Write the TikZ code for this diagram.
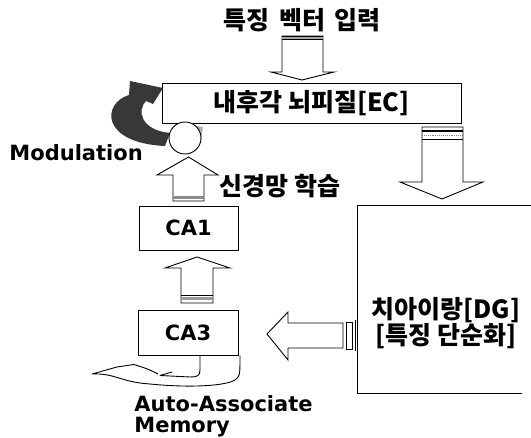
\documentclass[tikz,border=0pt]{standalone}
\usepackage{fontspec}
\newfontfamily\krfont{Noto Sans CJK KR}
\newfontfamily\latfont{DejaVu Sans}
\usetikzlibrary{calc}
\begin{document}
\begin{tikzpicture}[x=1pt,y=-1pt,line width=0.9pt,
  kr/.style={font=\krfont\bfseries\fontsize{25}{23}\selectfont, inner sep=0pt},
  lat/.style={font=\latfont\bfseries\fontsize{21}{21}\selectfont, inner sep=0pt},
  box/.style={draw, fill=white, inner sep=0pt},
  blk/.style={draw, fill=white, line join=miter},
  band/.style={fill=black!78},
  wedge/.style={fill=black!30},
  loopline/.style={line width=0.9pt, line join=round}]
\useasboundingbox (0,0) rectangle (531,438);

% title
\node[kr] (title) at (302,20.5) {특징\hspace{4pt} 벡터\hspace{4pt} 입력};

% boxes
\node[box, minimum width=299pt, minimum height=40pt] (ec) at (311.5,103) {};
\node[kr] (ectext) at (ec.center) {내후각 뇌피질[EC]};
\node[box, minimum width=99pt, minimum height=44pt] (ca1) at (188.5,228) {};
\node[lat] (ca1text) at (ca1.center) {CA1};
\node[box, minimum width=100pt, minimum height=45pt] (ca3) at (188,332.5) {};
\node[lat] (ca3text) at (ca3.center) {CA3};
\node[inner sep=0pt, minimum width=173pt, minimum height=187pt] (dg) at (444.5,299.5) {};
\draw (dg.north east) -- (dg.north west) -- (dg.south west) -- ++(164,0);
\node[kr, align=center] (dgtext) at (446,323) {치아이랑[DG]\\{}[특징 단순화]};

% input arrow: title -> EC
\draw[blk] (282,36) -- (323,36) -- (323,72) -- (334,72) -- (302,80) -- (271,72) -- (282,72) -- cycle;
\fill[black!35] (282,36) rectangle (323,39.5);
\draw (282,36) -- (323,36) (282,39.5) -- (323,39.5);

% EC -> DG
\draw[blk] (422,127) -- (463,127) -- (463,182) -- (483,182) -- (442,199) -- (400,182) -- (422,182) -- cycle;
\fill[black] (422,130) rectangle (463,132.5);
\draw[black!50, densely dotted] (422,135) -- (463,135);
\draw (422,139) -- (463,139);

% DG -> CA3
\draw[blk] (343,323) -- (343,348) -- (288,348) -- (288,360) -- (267,334) -- (288,312) -- (288,323) -- cycle;
\draw (346,322) rectangle (352,349);
\draw (355,320) -- (355,351);

% CA3 -> CA1
\draw[blk] (181,303) -- (213,303) -- (213,268) -- (230,268) -- (197,257) -- (165,268) -- (181,268) -- cycle;
\fill[black!40] (181,297) rectangle (213,300);
\draw (181,295.5) -- (213,295.5);

% modulation curved arrow
\fill[band] (170,133) .. controls (140,130) and (137,110) .. (146,101) -- (153,104) -- (163,88) -- (130,81) -- (129,95) .. controls (102,103) and (100,143) .. (165,146) -- cycle;
\fill[wedge] (184,124) -- (203,127) -- (201,141) -- cycle;
\draw[fill=white] (185,138) circle (16);

% CA1 -> EC
\draw[blk] (173,201) -- (204,201) -- (204,175) -- (218,175) -- (188.5,157) -- (157,175) -- (173,175) -- cycle;
\fill[black!45] (173,196) rectangle (204,199.5);

% labels
\node[kr, anchor=west] (learn) at (219,186) {신경망 학습};
\node[lat, anchor=west] (mod) at (9,153) {Modulation};

% auto-associate loop
\draw[loopline] (ca3.south -| 200,0) -- (200,370) .. controls (200,376) and (197,377) .. (190,377) -- (160,375.5) -- (172,372);
\draw[loopline] (158,374) .. controls (148,369) .. (134,364.5) -- (117,367) -- (92,374) .. controls (115,373) and (120,382) .. (150,384) .. controls (190,388) and (225,386) .. (235,380) .. controls (240,376) .. (ca3.south -| 240,0);
\node[lat, anchor=base west] (aa) at (134,412) {Auto-Associate};
\node[lat, anchor=base west] (mem) at (134,433) {Memory};
\end{tikzpicture}
\end{document}
